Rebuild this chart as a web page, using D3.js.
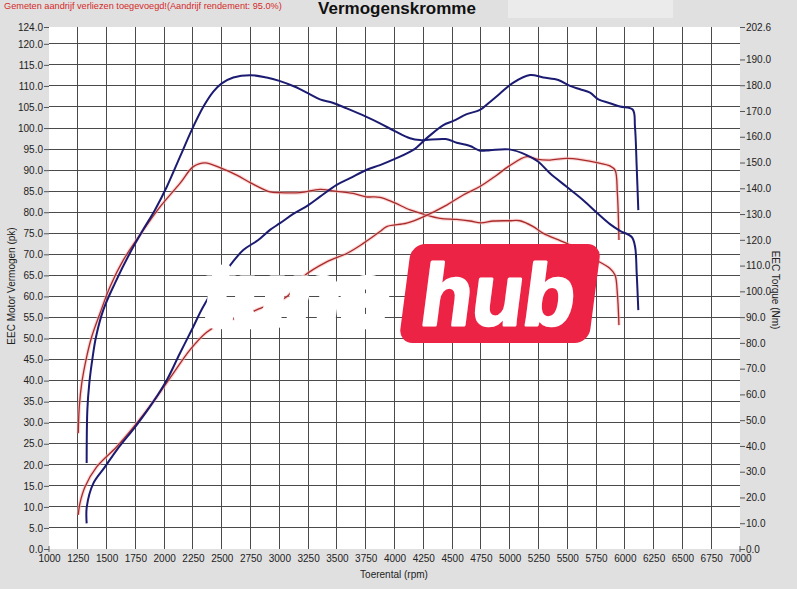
<!DOCTYPE html>
<html>
<head>
<meta charset="utf-8">
<script src="https://cdn.jsdelivr.net/npm/d3@7"></script>
<style>
  body { margin: 0; background: #e0e0e0; }
  svg { display: block; }
</style>
</head>
<body>
<div id="chart"></div>
<script>
// tuned (blue) torque, Nm on right axis
const tunedTorqueRpm = [1327,1333,1350,1379,1408,1471,1573,1703,1816,1920,2022,2137,2239,2340,2427,2500,2600,2751,2890,3000,3136,3252,3353,3463,3585,3752,3874,3998,4135,4221,4445,4540,4656,4743,4829,4997,5148,5249,5350,5495,5639,5770,5871,5958,6060,6089,6103,6117];
const tunedTorqueNm = [33.4,54.0,64.4,74.5,82.3,92.7,103.2,114.9,123.8,131.6,140.5,152.2,162.6,171.6,177.5,180.7,183.0,183.9,183.0,181.7,179.4,176.8,174.5,173.2,171.0,167.8,165.2,162.3,159.4,158.7,159.1,157.7,156.4,154.6,154.8,155.1,152.9,150.3,145.8,140.6,135.4,130.0,126.1,123.5,121.1,117.3,107.0,92.7];

// tuned (blue) power, pk on left axis
const tunedPowerRpm = [1327,1328,1385,1486,1588,1762,1906,2022,2137,2253,2340,2543,2687,2817,2919,3006,3121,3252,3353,3498,3614,3759,3874,3998,4163,4280,4424,4511,4627,4742,4829,4916,5032,5177,5292,5422,5524,5611,5698,5770,5871,5958,6068,6088,6103,6117];
const tunedPowerPk = [6.1,10.0,15.6,19.5,23.5,29.5,35.0,40.1,46.5,52.8,57.6,66.3,71.0,73.4,75.8,77.4,79.6,81.7,83.7,86.5,88.1,90.1,91.2,92.6,94.8,97.6,100.7,101.7,103.3,104.3,106.2,108.2,110.8,112.6,112.0,111.4,110.0,109.2,108.4,106.8,105.9,105.1,104.4,100.3,90.8,80.5];

// stock (red) torque, Nm
const stockTorqueRpm = [1254,1263,1284,1327,1371,1443,1530,1645,1819,1964,2137,2253,2355,2500,2630,2751,2919,3000,3179,3353,3463,3642,3752,3874,3998,4135,4250,4395,4540,4656,4751,4858,4997,5090,5205,5292,5495,5698,5871,5915,5935,5949];
const stockTorqueNm = [44.9,55.2,64.3,74.6,82.4,91.5,101.8,112.1,123.8,132.8,141.9,148.4,149.9,147.7,145.1,142.1,138.6,138.3,138.3,139.6,139.0,138.0,136.7,136.5,134.4,131.6,130.0,128.3,127.9,127.3,126.6,127.3,127.4,127.4,125.1,122.5,118.6,113.4,108.9,106.3,99.2,86.9];

// stock (red) power, pk
const stockPowerRpm = [1254,1269,1313,1414,1588,1762,1906,2079,2224,2369,2513,2658,2803,3064,3208,3411,3585,3729,3874,3932,4106,4250,4453,4597,4742,4887,4997,5148,5235,5350,5495,5639,5756,5871,5915,5935,5949];
const stockPowerPk = [8.1,10.9,14.8,19.5,24.3,29.9,35.0,41.7,47.3,51.5,53.9,55.1,56.8,59.9,64.7,68.2,70.2,72.6,75.4,76.6,77.4,78.9,81.7,84.1,86.1,88.8,91.0,93.2,92.6,92.4,92.8,92.4,91.8,91.0,90.0,84.5,73.4];

const rpmTicks = d3.range(1000, 7001, 250);
const pkTicks = d3.range(0, 121, 5).concat([124]);
const nmTicks = d3.range(0, 191, 10).concat([202.6]);

const dims = { width: 797, height: 589 };
const plot = { left: 49, right: 740, top: 27, bottom: 549 };

const svg = d3.select("#chart").append("svg")
  .attr("width", dims.width).attr("height", dims.height)
  .style("font-family", "'Liberation Sans', Arial, sans-serif");

svg.append("rect").attr("width", dims.width).attr("height", dims.height).attr("fill", "#e0e0e0");
svg.append("rect").attr("x", 508).attr("y", 0).attr("width", 165).attr("height", 18).attr("fill", "#ebebeb");

const x = d3.scaleLinear().domain([1000, 7000]).range([plot.left, plot.right]);
const yPk = d3.scaleLinear().domain([0, 124]).range([plot.bottom, plot.top]);
const yNm = d3.scaleLinear().domain([0, 202.6]).range([plot.bottom, plot.top]);

// plot area
svg.append("rect")
  .attr("x", plot.left).attr("y", plot.top)
  .attr("width", plot.right - plot.left).attr("height", plot.bottom - plot.top)
  .attr("fill", "#fff");

const grid = svg.append("g")
  .attr("stroke", "#4a4a4a")
  .attr("stroke-width", 1)
  .attr("shape-rendering", "crispEdges");

grid.selectAll("line.v")
  .data(rpmTicks.filter(d => d > 1000 && d < 7000))
  .enter().append("line")
  .attr("x1", d => x(d)).attr("x2", d => x(d))
  .attr("y1", plot.top).attr("y2", plot.bottom);

grid.selectAll("line.h")
  .data(pkTicks.filter(d => d > 0 && d < 124))
  .enter().append("line")
  .attr("x1", plot.left).attr("x2", plot.right)
  .attr("y1", d => yPk(d)).attr("y2", d => yPk(d));

// axes
const gx = svg.append("g")
  .attr("transform", `translate(0,${plot.bottom})`)
  .call(d3.axisBottom(x).tickValues(rpmTicks).tickSize(0).tickPadding(6).tickFormat(d3.format("d")));

const gl = svg.append("g")
  .attr("transform", `translate(${plot.left},0)`)
  .call(d3.axisLeft(yPk).tickValues(pkTicks).tickSize(5).tickPadding(1).tickFormat(d3.format(".1f")));

const gr = svg.append("g")
  .attr("transform", `translate(${plot.right},0)`)
  .call(d3.axisRight(yNm).tickValues(nmTicks).tickSize(5).tickPadding(1).tickFormat(d3.format(".1f")));

[gx, gl, gr].forEach(g => {
  g.select(".domain").remove();
  g.selectAll("text").attr("font-size", 10).attr("fill", "#222").style("font-family", "'Liberation Sans', Arial, sans-serif");
  g.selectAll(".tick line").attr("stroke", "#555");
});

// small corner stubs
svg.selectAll("line.corner")
  .data([1000, 7000])
  .enter().append("line")
  .attr("x1", d => x(d)).attr("x2", d => x(d))
  .attr("y1", plot.bottom - 3).attr("y2", plot.bottom + 3)
  .attr("stroke", "#555");

// curves
const zip = (a, b) => a.map((v, i) => [v, b[i]]);
const linePk = d3.line().x(d => x(d[0])).y(d => yPk(d[1])).curve(d3.curveCatmullRom.alpha(0.5));
const lineNm = d3.line().x(d => x(d[0])).y(d => yNm(d[1])).curve(d3.curveCatmullRom.alpha(0.5));

const curves = svg.append("g").attr("fill", "none").attr("stroke-linejoin", "round");

// red with a pale pink glow underneath
[lineNm(zip(stockTorqueRpm, stockTorqueNm)), linePk(zip(stockPowerRpm, stockPowerPk))].forEach(p => {
  curves.append("path").attr("d", p).attr("stroke", "#f5b4b4").attr("stroke-width", 3.5).attr("opacity", 0.55);
  curves.append("path").attr("d", p).attr("stroke", "#a92a2a").attr("stroke-width", 1.3);
});

[lineNm(zip(tunedTorqueRpm, tunedTorqueNm)), linePk(zip(tunedPowerRpm, tunedPowerPk))].forEach(p => {
  curves.append("path").attr("d", p).attr("stroke", "#1b1b72").attr("stroke-width", 2);
});

// texts
svg.append("text")
  .attr("x", 4).attr("y", 9)
  .attr("font-size", 9.2).attr("fill", "#d42a2a")
  .text("Gemeten aandrijf verliezen toegevoegd!(Aandrijf rendement: 95.0%)");

svg.append("text")
  .attr("x", 397).attr("y", 14)
  .attr("text-anchor", "middle")
  .attr("font-size", 17).attr("font-weight", "bold").attr("fill", "#111")
  .text("Vermogenskromme");

svg.append("text")
  .attr("x", 394).attr("y", 578)
  .attr("text-anchor", "middle")
  .attr("font-size", 10).attr("fill", "#222")
  .text("Toerental (rpm)");

svg.append("text")
  .attr("transform", "translate(15,286) rotate(-90)")
  .attr("text-anchor", "middle")
  .attr("font-size", 10).attr("fill", "#222")
  .text("EEC Motor Vermogen (pk)");

svg.append("text")
  .attr("transform", "translate(772,290) rotate(90)")
  .attr("text-anchor", "middle")
  .attr("font-size", 10).attr("fill", "#222")
  .text("EEC Torque (Nm)");

// logo watermark
const logo = svg.append("g").attr("transform", "translate(0,293.5) skewX(-7.4)");
logo.append("rect")
  .attr("x", 405).attr("y", -49.5)
  .attr("width", 190).attr("height", 99)
  .attr("rx", 14)
  .attr("fill", "#ec2344");
logo.append("text")
  .attr("x", 499).attr("y", 31.5)
  .attr("text-anchor", "middle")
  .attr("font-size", 87).attr("font-weight", "bold")
  .attr("textLength", 154).attr("lengthAdjust", "spacingAndGlyphs")
  .attr("fill", "#fff").attr("stroke", "#fff").attr("stroke-width", 3).attr("stroke-linejoin", "round")
  .text("hub");
logo.append("text")
  .attr("x", 297).attr("y", 31.5)
  .attr("text-anchor", "middle")
  .attr("font-size", 87).attr("font-weight", "bold")
  .attr("textLength", 185).attr("lengthAdjust", "spacingAndGlyphs")
  .attr("fill", "#fff").attr("stroke", "#fff").attr("stroke-width", 7).attr("stroke-linejoin", "round")
  .text("tune");
</script>
</body>
</html>
